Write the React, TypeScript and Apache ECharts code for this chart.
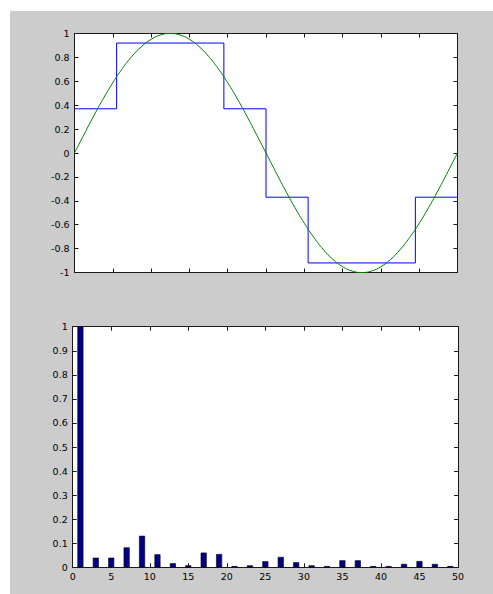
import React, { useEffect, useRef } from "react";
import * as echarts from "echarts";

// Top panel: sampled sine wave (x in [0,1])
const sineX = [
  0, 0.025, 0.05, 0.075, 0.1, 0.125, 0.15, 0.175, 0.2, 0.225, 0.25, 0.275, 0.3, 0.325, 0.35, 0.375, 0.4, 0.425, 0.45, 0.475,
  0.5, 0.525, 0.55, 0.575, 0.6, 0.625, 0.65, 0.675, 0.7, 0.725, 0.75, 0.775, 0.8, 0.825, 0.85, 0.875, 0.9, 0.925, 0.95, 0.975, 1,
];
const sineY = [
  0, 0.156, 0.309, 0.454, 0.588, 0.707, 0.809, 0.891, 0.951, 0.988, 1, 0.988, 0.951, 0.891, 0.809, 0.707, 0.588, 0.454, 0.309, 0.156,
  0, -0.156, -0.309, -0.454, -0.588, -0.707, -0.809, -0.891, -0.951, -0.988, -1, -0.988, -0.951, -0.891, -0.809, -0.707, -0.588, -0.454, -0.309, -0.156, 0,
];

// Top panel: quantized staircase
const stepEdges = [0, 0.11, 0.39, 0.5, 0.61, 0.89, 1];
const stepLevels = [0.37, 0.92, 0.37, -0.37, -0.92, -0.37];

// Bottom panel: spectrum bars
const barX = [1, 3, 5, 7, 9, 11, 13, 15, 17, 19, 21, 23, 25, 27, 29, 31, 33, 35, 37, 39, 41, 43, 45, 47, 49];
const barY = [
  1.0, 0.04, 0.04, 0.083, 0.131, 0.054, 0.017, 0.008, 0.061, 0.055, 0.005, 0.008, 0.025, 0.043, 0.021, 0.008, 0.005, 0.029,
  0.029, 0.005, 0.005, 0.014, 0.026, 0.014, 0.005,
];

const FONT = "DejaVu Sans";
const AX = "#1a1a1a";

function fmt(v: number) {
  return String(Math.round(v * 10) / 10);
}

export default function App() {
  const ref = useRef<HTMLDivElement>(null);
  useEffect(() => {
    if (!ref.current) return;
    const chart = echarts.init(ref.current, null, { renderer: "svg" });

    const stepData: number[][] = stepLevels.map((lv, i) => [stepEdges[i], lv]);
    stepData.push([stepEdges[stepEdges.length - 1], stepLevels[stepLevels.length - 1]]);

    const label = { fontFamily: FONT, fontSize: 9.5, color: "#000" };
    const line = { show: true, onZero: false, lineStyle: { color: AX, width: 1 } };
    const tick = { show: true, inside: true, length: 4, lineStyle: { color: AX } };

    chart.setOption({
      animation: false,
      graphic: [
        { type: "rect", z: -10, shape: { x: 10, y: 11, width: 483, height: 583 }, style: { fill: "#cccccc" } },
      ],
      grid: [
        { left: 74.5, top: 33.5, width: 383, height: 239, show: true, backgroundColor: "#ffffff", borderWidth: 0 },
        { left: 72.7, top: 326.7, width: 385.3, height: 240.6, show: true, backgroundColor: "#ffffff", borderWidth: 0 },
      ],
      xAxis: [
        { type: "value", gridIndex: 0, position: "bottom", min: 0, max: 1, interval: 0.1, axisLine: line, axisTick: tick, axisLabel: { show: false }, splitLine: { show: false } },
        { type: "value", gridIndex: 0, position: "top", min: 0, max: 1, interval: 0.1, axisLine: line, axisTick: tick, axisLabel: { show: false }, splitLine: { show: false } },
        { type: "value", gridIndex: 1, position: "bottom", min: 0, max: 50, interval: 5, axisLine: line, axisTick: tick, axisLabel: { ...label, margin: 4 }, splitLine: { show: false } },
        { type: "value", gridIndex: 1, position: "top", min: 0, max: 50, interval: 5, axisLine: line, axisTick: tick, axisLabel: { show: false }, splitLine: { show: false } },
      ],
      yAxis: [
        { type: "value", gridIndex: 0, position: "left", min: -1, max: 1, interval: 0.2, axisLine: line, axisTick: tick, axisLabel: { ...label, margin: 5, formatter: fmt }, splitLine: { show: false } },
        { type: "value", gridIndex: 0, position: "right", min: -1, max: 1, interval: 0.2, axisLine: line, axisTick: tick, axisLabel: { show: false }, splitLine: { show: false } },
        { type: "value", gridIndex: 1, position: "left", min: 0, max: 1, interval: 0.1, axisLine: line, axisTick: tick, axisLabel: { ...label, margin: 5, formatter: fmt }, splitLine: { show: false } },
        { type: "value", gridIndex: 1, position: "right", min: 0, max: 1, interval: 0.1, axisLine: line, axisTick: tick, axisLabel: { show: false }, splitLine: { show: false } },
      ],
      series: [
        {
          type: "line",
          xAxisIndex: 0,
          yAxisIndex: 0,
          data: stepData,
          step: "end",
          showSymbol: false,
          lineStyle: { color: "#0000ff", width: 1 },
          z: 2,
        },
        {
          type: "line",
          xAxisIndex: 0,
          yAxisIndex: 0,
          data: sineX.map((x, i) => [x, sineY[i]]),
          smooth: true,
          showSymbol: false,
          lineStyle: { color: "#008000", width: 1 },
          z: 3,
        },
        {
          type: "bar",
          xAxisIndex: 2,
          yAxisIndex: 2,
          data: barX.map((x, i) => [x, barY[i]]),
          barWidth: 6,
          itemStyle: { color: "#000080", borderColor: "#000022", borderWidth: 0.6 },
        },
      ],
    });
    return () => chart.dispose();
  }, []);
  return <div ref={ref} style={{ position: "absolute", left: 0, top: 0, width: 493, height: 594, background: "#ffffff" }} />;
}
